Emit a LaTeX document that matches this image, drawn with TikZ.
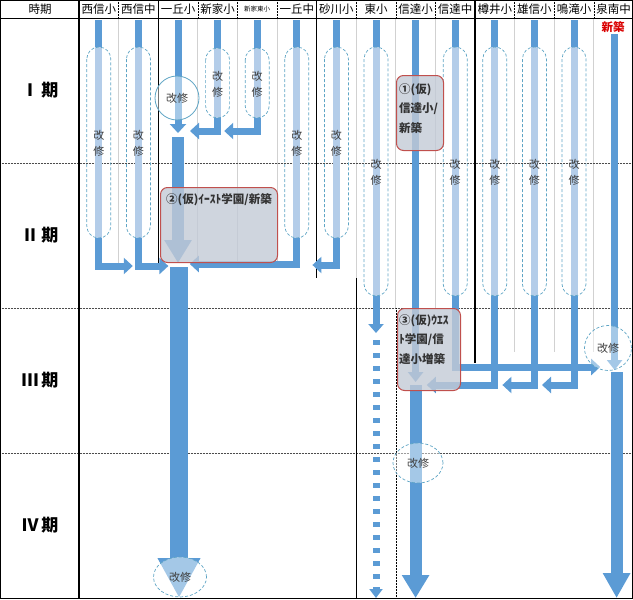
\documentclass[tikz,border=0pt]{standalone}
\usepackage{fontspec}
\setmainfont{Noto Sans CJK JP}
\usetikzlibrary{arrows.meta,shapes.geometric}

\definecolor{barblue}{HTML}{5B9BD5}
\definecolor{paleblue}{HTML}{B4CDE9}
\definecolor{ringblue}{HTML}{5FA5C5}
\definecolor{boxred}{HTML}{C0504D}
\definecolor{boxgrey}{HTML}{C3CAD6}

\tikzset{
 colhead/.style={font=\fontsize{11.5}{12}\selectfont, inner sep=0pt},
 period/.style={font=\fontsize{17}{17}\selectfont\bfseries},
 bar/.style={draw=barblue, line width=7pt},
 pale/.style={draw=paleblue, line width=7pt},
 capsule/.style={draw=ringblue, densely dashed, line width=0.7pt, rounded corners=12pt},
 note/.style={font=\fontsize{11}{16}\selectfont, text=black!75, align=center, inner sep=0pt},
 ring/.style={ellipse, draw=ringblue, densely dashed, line width=0.7pt, fill=white, fill opacity=0.45, text opacity=1, font=\fontsize{11}{12}\selectfont, text=black!75, inner sep=0pt},
 newbox/.style={draw=boxred, line width=1pt, rounded corners=7pt, fill=boxgrey, fill opacity=0.8, anchor=north west, inner sep=0pt},
 boxtext/.style={font=\fontsize{11.5}{19.5}\selectfont\bfseries, text=black!80, align=left, inner sep=0pt},
 headarrow/.style={-{Triangle[width=16pt,length=9pt]}},
 rule/.style={line width=1.4pt},
 gridline/.style={draw=black!18, line width=0.7pt},
}

\begin{document}
\begin{tikzpicture} [x=1pt, y=-1pt]
 \useasboundingbox (0,0) rectangle (633,600);
 % table
 \foreach \k/\yb in {1/265,3/265,4/265,5/265,7/278,8/308,9/308,11/352,12/352,13/352}
   \draw [gridline] ({79+39.6*\k},18) -- ({79+39.6*\k},\yb);
 \foreach \k in {1,...,13}
   \draw [densely dotted, line width=0.5pt] ({79+39.6*\k},0) -- ({79+39.6*\k},18);
 \foreach \y in {163,308,453}
   \draw [densely dotted, black!70, line width=0.5pt] (0,\y) -- (633,\y);
 \draw [densely dotted, line width=0.5pt] (395.8,308) -- (395.8,598);
 \draw [line width=1pt] (0.5,0.5) rectangle (632.5,598);
 \draw [line width=1pt] (0,18) -- (633,18);
 \draw [rule] (79,0) -- (79,598);
 \draw [rule] (158.2,0) -- (158.2,265);
 \draw [rule] (316.6,0) -- (316.6,278);
 \draw [rule] (356.2,278) -- (356.2,598);
 \draw [rule] (475,0) -- (475,363);

 % header
 \node [colhead] (h0) at (40,9.5) {時期};
 \foreach \name/\fs [count=\i] in {西信小/11.5,西信中/11.5,一丘小/11.5,新家小/11.5,新家東小/6.5,一丘中/11.5,砂川小/11.5,東小/11.5,信達小/11.5,信達中/11.5,樽井小/11.5,雄信小/11.5,鳴滝小/11.5,泉南中/11.5}{
   \node [colhead, font=\fontsize{\fs}{12}\selectfont] (h\i) at ({79+39.6*(\i-0.5)},9.5) {\name};
   \coordinate (t\i) at ({79+39.6*(\i-0.5)},20);
 }
 \foreach \p [count=\i] in {Ⅰ,Ⅱ,Ⅲ,Ⅳ}
   \node [period] (p\i) at (40,{18+145*(\i-0.5)}) {\p\,期};

 % schools kept and repaired
 \foreach \i/\ya/\yb/\yl in {1/47/238/143,2/47/238/143,4/48/118/84,5/48/118/84,6/47/238/143,7/47/238/143,8/47/296/172,10/47/296/172,11/47/296/172,12/47/296/172,13/47/296/172}{
   \pgfmathsetmacro\x{79+39.6*(\i-0.5)}
   \draw [bar] (\x,20) -- (\x,\ya);
   \draw [pale] (\x,\ya) -- (\x,\yb);
   \draw [capsule] (\x-12,\ya) rectangle (\x+12,\yb);
   \node [note] (k\i) at (\x,\yl) {改\\修};
   \coordinate (e\i) at (\x,\yb);
 }

 % moves
 \draw [bar, headarrow] (e1) |- ++(34,28);
 \draw [bar, headarrow] (e2) |- ++(30,28);
 \draw [bar, headarrow] (e4) |- ++(-27.6,13);
 \draw [bar, headarrow] (e5) |- ++(-33,13);
 \draw [bar, headarrow] (e6) |- ++(-107,26);
 \draw [bar, headarrow] (e7) |- ++(-24,27);
 \draw [bar, -{Triangle[width=15pt,length=9pt]}] (e8) -- ++(0,37);
 \draw [bar, dash pattern=on 5pt off 8pt, -{Triangle[width=13pt,length=9pt]}] (e8) ++(0,44) -- ++(0,258);
 \draw [bar, headarrow] (e10) |- ++(145,71);
 \draw [bar, headarrow] (e11) |- ++(-68,89);
 \draw [bar, headarrow] (e12) |- ++(-32,89);
 \draw [bar, headarrow] (e13) |- ++(-32,89);

 % trunks
 \draw [bar, headarrow] (t3) -- ++(0,113);
 \draw [bar, line width=12pt, -{Triangle[width=26pt,length=23pt]}] (t3) ++(0,117) -- ++(0,126);
 \draw [bar, line width=18pt, -{Triangle[width=40pt,length=40pt]}] (t3) ++(1,247) -- ++(0,331);
 \draw [bar, -{Triangle[width=15pt,length=10pt]}] (t9) -- ++(0,362);
 \draw [bar, line width=12pt, -{Triangle[width=26pt,length=23pt]}] (t9) ++(0,365) -- ++(0,213);
 \node [font=\fontsize{11.5}{12}\selectfont\bfseries, text=red!85!black, inner sep=0pt] (n14) at (613,27) {新築};
 \draw [bar, -{Triangle[width=15pt,length=10pt]}] (t14) ++(1,14) -- ++(0,336);
 \draw [bar, line width=12pt, -{Triangle[width=26pt,length=25pt]}] (t14) ++(3,352) -- ++(0,226);

 % new buildings
 \node [newbox, minimum width=47pt, minimum height=75pt] (b1) at (396,75) {};
 \node [newbox, minimum width=117pt, minimum height=75pt] (b2) at (160,187) {};
 \node [newbox, minimum width=63pt, minimum height=82pt] (b3) at (397,308) {};
 \node [boxtext, anchor=north west] (b1t) at (399,83) {①(仮)\\信達小/\\新築};
 \node [boxtext] (b2t) at (219,200) {②(仮)ｲｰｽﾄ学園/新築};
 \node [boxtext, anchor=north west] (b3t) at (399,314) {③(仮)ｳｴｽ\\ﾄ学園/信\\達小増築};

 % repairs
 \node [circle, draw=ringblue, line width=0.8pt, fill=white, fill opacity=0.45, text opacity=1, text=black!75, font=\fontsize{11}{12}\selectfont, minimum size=44pt, inner sep=0pt] (r1) at (177,98) {改修};
 \node [ring, minimum width=53pt, minimum height=40pt] (r2) at (180,577) {改修};
 \node [ring, minimum width=50pt, minimum height=40pt] (r3) at (418,463) {改修};
 \node [ring, minimum width=47pt, minimum height=45pt] (r4) at (608,348) {改修};
\end{tikzpicture}
\end{document}
